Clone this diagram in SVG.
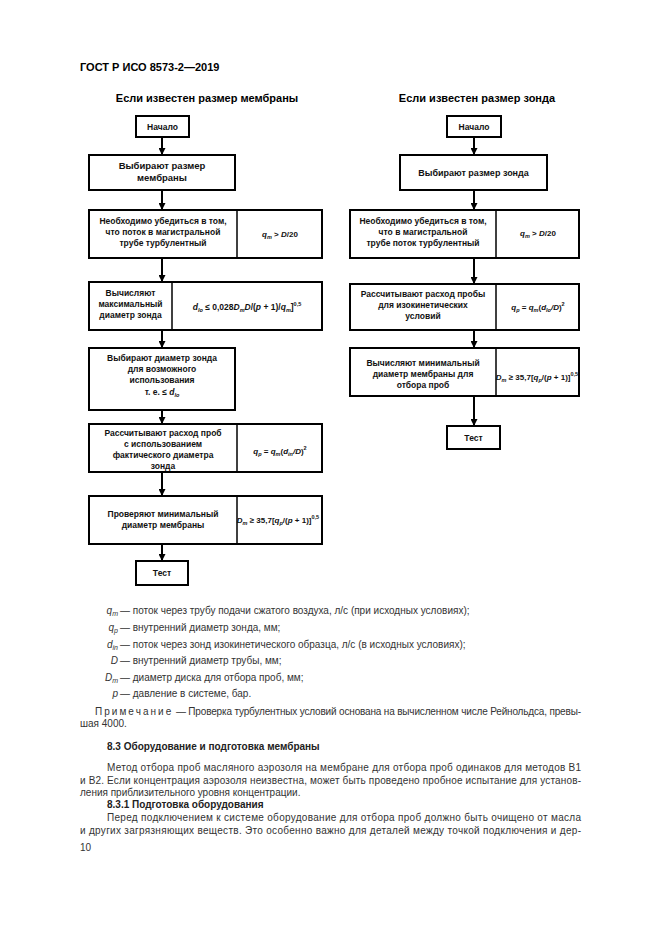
<svg xmlns="http://www.w3.org/2000/svg" width="661" height="935" viewBox="0 0 661 935">
<style>
.bg{fill:#fff}
.box{fill:#fff;stroke:#000;stroke-width:2}
.div{stroke:#000;stroke-width:1.5}
.bt{font-family:"Liberation Sans",Arial,sans-serif;font-size:8.5px;font-weight:bold;fill:#111;text-anchor:middle}
.f{font-size:8px}
.i{font-style:italic}
.s{font-size:5.5px}
.title{font-family:"Liberation Sans",Arial,sans-serif;font-size:11px;font-weight:bold;fill:#000;text-anchor:middle}
.hdr{font-family:"Liberation Sans",Arial,sans-serif;font-size:11px;font-weight:bold;fill:#000}
.body{font-family:"Liberation Sans",Arial,sans-serif;font-size:10px;fill:#333}
.bold{font-weight:bold;fill:#222}
.conn line{stroke:#000;stroke-width:2}
</style>
<defs>
<marker id="ah" markerWidth="7" markerHeight="7" refX="7" refY="3.5" orient="auto" markerUnits="userSpaceOnUse">
<path d="M0,0 L7,3.5 L0,7 z" fill="#000"/>
</marker>
</defs>
<rect class="bg" x="0" y="0" width="661" height="935"/>
<text class="hdr" x="80" y="71">ГОСТ Р ИСО 8573-2—2019</text>
<text class="title" x="207" y="102">Если известен размер мембраны</text>
<text class="title" x="477" y="102">Если известен размер зонда</text>

<g id="connectors" class="conn">
<line x1="162" y1="137" x2="162" y2="155" marker-end="url(#ah)"/>
<line x1="162" y1="190" x2="162" y2="210" marker-end="url(#ah)"/>
<line x1="162" y1="258" x2="162" y2="282" marker-end="url(#ah)"/>
<line x1="162" y1="330" x2="162" y2="348" marker-end="url(#ah)"/>
<line x1="162" y1="410" x2="162" y2="424" marker-end="url(#ah)"/>
<line x1="162" y1="472" x2="162" y2="496" marker-end="url(#ah)"/>
<line x1="162" y1="544" x2="162" y2="561" marker-end="url(#ah)"/>
<line x1="474" y1="137" x2="474" y2="155" marker-end="url(#ah)"/>
<line x1="474" y1="190" x2="474" y2="210" marker-end="url(#ah)"/>
<line x1="474" y1="258" x2="474" y2="284" marker-end="url(#ah)"/>
<line x1="474" y1="330" x2="474" y2="348" marker-end="url(#ah)"/>
<line x1="474" y1="396" x2="474" y2="426" marker-end="url(#ah)"/>
</g>

<g id="L-start">
<rect class="box" x="136" y="116" width="53" height="21"/>
<text class="bt" x="162.5" y="130">Начало</text>
</g>
<g id="L-select-membrane">
<rect class="box" x="89" y="155" width="146" height="35"/>
<text class="bt" x="162" y="169" style="font-size:9.5px">Выбирают размер</text>
<text class="bt" x="162" y="181" style="font-size:9.5px">мембраны</text>
</g>
<g id="L-turbulent">
<rect class="box" x="89" y="210" width="233" height="48"/>
<line class="div" x1="237" y1="210" x2="237" y2="258"/>
<text class="bt" x="163" y="224">Необходимо убедиться в том,</text>
<text class="bt" x="163" y="235">что поток в магистральной</text>
<text class="bt" x="163" y="246">трубе турбулентный</text>
<text class="bt f" x="280" y="237"><tspan class="i">q</tspan><tspan class="i s" dy="2">m</tspan><tspan dy="-2"> &gt; </tspan><tspan class="i">D</tspan>/20</text>
</g>
<g id="L-max-probe">
<rect class="box" x="89" y="282" width="233" height="48"/>
<line class="div" x1="172" y1="282" x2="172" y2="330"/>
<text class="bt" x="130.5" y="296">Вычисляют</text>
<text class="bt" x="130.5" y="307">максимальный</text>
<text class="bt" x="130.5" y="318">диаметр зонда</text>
<text class="bt" x="247" y="310"><tspan class="i">d</tspan><tspan class="i s" dy="2">lo</tspan><tspan dy="-2"> ≤ 0,028</tspan><tspan class="i">D</tspan><tspan class="i s" dy="2">m</tspan><tspan class="i" dy="-2">D</tspan>/(<tspan class="i">p</tspan> + 1)/<tspan class="i">q</tspan><tspan class="i s" dy="2">m</tspan><tspan dy="-2">]</tspan><tspan class="s" dy="-4">0,5</tspan></text>
</g>
<g id="L-select-probe">
<rect class="box" x="89" y="348" width="146" height="62"/>
<text class="bt" x="162" y="361">Выбирают диаметр зонда</text>
<text class="bt" x="162" y="372">для возможного</text>
<text class="bt" x="162" y="383">использования</text>
<text class="bt" x="162" y="395">т. е. ≤ <tspan class="i">d</tspan><tspan class="i s" dy="2">lo</tspan></text>
</g>
<g id="L-flow">
<rect class="box" x="89" y="424" width="233" height="48"/>
<line class="div" x1="237" y1="424" x2="237" y2="472"/>
<text class="bt" x="163" y="436">Рассчитывают расход проб</text>
<text class="bt" x="163" y="447">с использованием</text>
<text class="bt" x="163" y="458">фактического диаметра</text>
<text class="bt" x="163" y="469">зонда</text>
<text class="bt f" x="280" y="454"><tspan class="i">q</tspan><tspan class="i s" dy="2">p</tspan><tspan dy="-2"> = </tspan><tspan class="i">q</tspan><tspan class="i s" dy="2">m</tspan><tspan dy="-2">(</tspan><tspan class="i">d</tspan><tspan class="i s" dy="2">in</tspan><tspan class="i" dy="-2">/D</tspan>)<tspan class="s" dy="-4">2</tspan></text>
</g>
<g id="L-check-membrane">
<rect class="box" x="89" y="496" width="233" height="48"/>
<line class="div" x1="237" y1="496" x2="237" y2="544"/>
<text class="bt" x="163" y="517">Проверяют минимальный</text>
<text class="bt" x="163" y="528">диаметр мембраны</text>
<text class="bt f" x="278" y="523"><tspan class="i">D</tspan><tspan class="i s" dy="2">m</tspan><tspan dy="-2"> ≥ 35,7[</tspan><tspan class="i">q</tspan><tspan class="i s" dy="2">p</tspan><tspan dy="-2">/(</tspan><tspan class="i">p</tspan> + 1)]<tspan class="s" dy="-4">0,5</tspan></text>
</g>
<g id="L-test">
<rect class="box" x="136" y="561" width="52" height="24"/>
<text class="bt" x="162" y="576">Тест</text>
</g>

<g id="R-start">
<rect class="box" x="447" y="116" width="54" height="21"/>
<text class="bt" x="474" y="130">Начало</text>
</g>
<g id="R-select-probe">
<rect class="box" x="400" y="155" width="147" height="35"/>
<text class="bt" x="473.5" y="176" style="font-size:9px">Выбирают размер зонда</text>
</g>
<g id="R-turbulent">
<rect class="box" x="350" y="210" width="229" height="48"/>
<line class="div" x1="496" y1="210" x2="496" y2="258"/>
<text class="bt" x="423" y="224">Необходимо убедиться в том,</text>
<text class="bt" x="423" y="235">что в магистральной</text>
<text class="bt" x="423" y="246">трубе поток турбулентный</text>
<text class="bt f" x="538" y="236"><tspan class="i">q</tspan><tspan class="i s" dy="2">m</tspan><tspan dy="-2"> &gt; </tspan><tspan class="i">D</tspan>/20</text>
</g>
<g id="R-flow">
<rect class="box" x="350" y="284" width="229" height="46"/>
<line class="div" x1="496" y1="284" x2="496" y2="330"/>
<text class="bt" x="423" y="297">Рассчитывают расход пробы</text>
<text class="bt" x="423" y="308">для изокинетических</text>
<text class="bt" x="423" y="319">условий</text>
<text class="bt f" x="538" y="310"><tspan class="i">q</tspan><tspan class="i s" dy="2">p</tspan><tspan dy="-2"> = </tspan><tspan class="i">q</tspan><tspan class="i s" dy="2">m</tspan><tspan dy="-2">(</tspan><tspan class="i">d</tspan><tspan class="i s" dy="2">lo</tspan><tspan class="i" dy="-2">/D</tspan>)<tspan class="s" dy="-4">2</tspan></text>
</g>
<g id="R-membrane">
<rect class="box" x="350" y="348" width="229" height="48"/>
<line class="div" x1="496" y1="348" x2="496" y2="396"/>
<text class="bt" x="423" y="366">Вычисляют минимальный</text>
<text class="bt" x="423" y="377">диаметр мембраны для</text>
<text class="bt" x="423" y="388">отбора проб</text>
<text class="bt f" x="537" y="380"><tspan class="i">D</tspan><tspan class="i s" dy="2">m</tspan><tspan dy="-2"> ≥ 35,7[</tspan><tspan class="i">q</tspan><tspan class="i s" dy="2">p</tspan><tspan dy="-2">/(</tspan><tspan class="i">p</tspan> + 1)]<tspan class="s" dy="-4">0,5</tspan></text>
</g>
<g id="R-test">
<rect class="box" x="447" y="426" width="53" height="23"/>
<text class="bt" x="473.5" y="441">Тест</text>
</g>

<g id="legend" class="body">
<text x="118" y="614" text-anchor="end"><tspan class="i">q</tspan><tspan class="i" font-size="7" dy="2">m</tspan></text>
<text x="120" y="614">— поток через трубу подачи сжатого воздуха, л/с (при исходных условиях);</text>
<text x="118" y="631" text-anchor="end"><tspan class="i">q</tspan><tspan class="i" font-size="7" dy="2">p</tspan></text>
<text x="120" y="631">— внутренний диаметр зонда, мм;</text>
<text x="118" y="648" text-anchor="end"><tspan class="i">d</tspan><tspan class="i" font-size="7" dy="2">in</tspan></text>
<text x="120" y="648">— поток через зонд изокинетического образца, л/с (в исходных условиях);</text>
<text x="118" y="664" text-anchor="end" class="i">D</text>
<text x="120" y="664">— внутренний диаметр трубы, мм;</text>
<text x="118" y="681" text-anchor="end"><tspan class="i">D</tspan><tspan class="i" font-size="7" dy="2">m</tspan></text>
<text x="120" y="681">— диаметр диска для отбора проб, мм;</text>
<text x="118" y="697" text-anchor="end" class="i">p</text>
<text x="120" y="697">— давление в системе, бар.</text>
<text x="95" y="715" textLength="486" lengthAdjust="spacing"><tspan letter-spacing="2.2">Примечание</tspan> — Проверка турбулентных условий основана на вычисленном числе Рейнольдса, превы-</text>
<text x="80" y="727">шая 4000.</text>
</g>

<g id="section" class="body">
<text class="bold" x="107" y="750">8.3 Оборудование и подготовка мембраны</text>
<text x="107" y="771" textLength="474" lengthAdjust="spacing">Метод отбора проб масляного аэрозоля на мембране для отбора проб одинаков для методов B1</text>
<text x="80" y="784" textLength="501" lengthAdjust="spacing">и B2. Если концентрация аэрозоля неизвестна, может быть проведено пробное испытание для установ-</text>
<text x="80" y="796">ления приблизительного уровня концентрации.</text>
<text class="bold" x="107" y="808">8.3.1 Подготовка оборудования</text>
<text x="107" y="821" textLength="474" lengthAdjust="spacing">Перед подключением к системе оборудование для отбора проб должно быть очищено от масла</text>
<text x="80" y="834" textLength="501" lengthAdjust="spacing">и других загрязняющих веществ. Это особенно важно для деталей между точкой подключения и дер-</text>
<text x="80" y="851">10</text>
</g>
</svg>
